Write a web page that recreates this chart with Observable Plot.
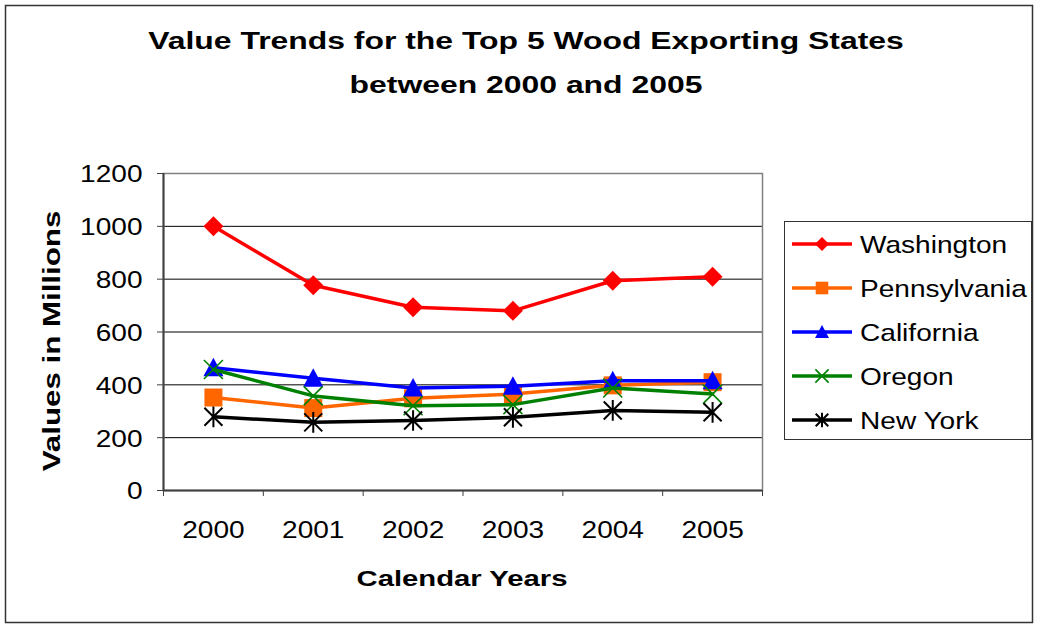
<!DOCTYPE html>
<html>
<head>
<meta charset="utf-8">
<script src="https://cdn.jsdelivr.net/npm/d3@7"></script>
<script src="https://cdn.jsdelivr.net/npm/@observablehq/plot@0.6"></script>
<style>
  html, body { margin: 0; padding: 0; background: #fff; }
  #chart { width: 1039px; height: 625px; }
</style>
</head>
<body>
<div id="chart"></div>
<script>
// ---- data ----
const years = [2000, 2001, 2002, 2003, 2004, 2005];
const states = ["Washington", "Pennsylvania", "California", "Oregon", "New York"];
const washington   = [1000, 777, 694, 680, 794, 809];
const pennsylvania = [352, 312, 349, 365, 398, 410];
const california   = [465, 425, 388, 395, 415, 415];
const oregon       = [458, 358, 321, 325, 388, 365];
const newYork      = [279, 258, 265, 277, 303, 296];
const yTicks = [0, 200, 400, 600, 800, 1000, 1200];
const titleLines = ["Value Trends for the Top 5 Wood Exporting States", "between 2000 and 2005"];
const xTitle = "Calendar Years";
const yTitle = "Values in Millions";

// ---- styles ----
const seriesValues = [washington, pennsylvania, california, oregon, newYork];
const colors = ["#FF0000", "#FF6600", "#0000FF", "#008000", "#000000"];
const FONT = "'Liberation Sans', Arial, sans-serif";

const symbols = {
  diamond: {draw(c, s) { const r = Math.sqrt(s / Math.PI); c.moveTo(0, -r); c.lineTo(r, 0); c.lineTo(0, r); c.lineTo(-r, 0); c.closePath(); }},
  square:  {draw(c, s) { const r = Math.sqrt(s / Math.PI) * 0.9; c.rect(-r, -r, 2 * r, 2 * r); }},
  triangle:{draw(c, s) { const r = Math.sqrt(s / Math.PI); c.moveTo(0, -r); c.lineTo(r, r * 0.85); c.lineTo(-r, r * 0.85); c.closePath(); }},
  times:   {draw(c, s) { const r = Math.sqrt(s / Math.PI) * 0.95; c.moveTo(-r, -r); c.lineTo(r, r); c.moveTo(r, -r); c.lineTo(-r, r); }},
  star:    {draw(c, s) { const r = Math.sqrt(s / Math.PI) * 0.9; c.moveTo(-r, -r); c.lineTo(r, r); c.moveTo(r, -r); c.lineTo(-r, r); c.moveTo(0, -r * 1.15); c.lineTo(0, r * 1.15); }}
};
const seriesSymbols = [symbols.diamond, symbols.square, symbols.triangle, symbols.times, symbols.star];
const filled = [true, true, true, false, false];
const strokeW = [0, 0, 0, 1.6, 2];

const boundaries = d3.range(years.length + 1).map(i => years[0] - 0.5 + i);

const seriesMarks = states.flatMap((s, k) => {
  const rows = years.map((yr, i) => ({year: yr, value: seriesValues[k][i], state: s}));
  return [
    Plot.line(rows, {x: "year", y: "value", stroke: colors[k], strokeWidth: 3.5}),
    Plot.dot(rows, {
      x: "year", y: "value", r: 10, symbol: seriesSymbols[k],
      fill: filled[k] ? colors[k] : "none",
      stroke: filled[k] ? "none" : colors[k],
      strokeWidth: strokeW[k]
    })
  ];
});

const chart = Plot.plot({
  width: 1039,
  height: 625,
  marginLeft: 163,
  marginRight: 277,
  marginTop: 173,
  marginBottom: 135,
  style: {fontFamily: FONT, fontSize: "23px", background: "#fff", overflow: "visible"},
  x: {type: "linear", domain: [boundaries[0], boundaries[boundaries.length - 1]]},
  y: {domain: [0, 1200]},
  marks: [
    Plot.gridY(yTicks.filter(d => d > 0), {stroke: "#000", strokeOpacity: 1, strokeWidth: 1}),
    Plot.frame({stroke: "#808080", strokeWidth: 1.5}),
    Plot.ruleX([boundaries[0]], {stroke: "#404040", strokeWidth: 2}),
    Plot.ruleY([0], {stroke: "#404040", strokeWidth: 2}),
    Plot.axisY({ticks: yTicks, tickSize: 6, tickPadding: 15, stroke: "#404040", label: null, fontSize: 23, tickFormat: d => String(d)}),
    Plot.axisX({ticks: boundaries, tickSize: 6, stroke: "#404040", tickFormat: () => "", label: null}),
    Plot.axisX({ticks: years, tickSize: 0, tickPadding: 31, tickFormat: d => String(d), label: null, fontSize: 23}),
    ...seriesMarks
  ]
});

document.getElementById("chart").appendChild(chart);

// stretch tick labels horizontally (the reference text is wide)
function stretchText(sel, s, dy) {
  d3.select(chart).selectAll(sel).each(function() {
    const t = d3.select(this);
    const xa = t.attr("x");
    const x = xa != null && !isNaN(+xa) ? +xa : 0;
    if (xa != null && !isNaN(+xa)) t.attr("x", null);
    const tr = t.attr("transform") || "";
    t.attr("transform", `${tr} translate(${x},${dy}) scale(${s},1)`);
  });
}
stretchText('g[aria-label="y-axis tick label"] text', 1.22, 1.5);
stretchText('g[aria-label="x-axis tick label"] text', 1.22, 0);

const svg = d3.select(chart);

// outer border
svg.append("rect").attr("x", 5.5).attr("y", 5.5).attr("width", 1027).attr("height", 617)
  .attr("fill", "none").attr("stroke", "#333").attr("stroke-width", 1.5);

// title
titleLines.forEach((line, i) => {
  svg.append("text").attr("transform", `translate(526,${49 + i * 44}) scale(1.33,1)`)
    .attr("text-anchor", "middle").attr("font-family", FONT).attr("font-weight", "bold")
    .attr("font-size", 24).attr("fill", "#000").text(line);
});

// axis titles
svg.append("text").attr("transform", `translate(462,586) scale(1.33,1)`)
  .attr("text-anchor", "middle").attr("font-family", FONT).attr("font-weight", "bold")
  .attr("font-size", 22).attr("fill", "#000").text(xTitle);
svg.append("text").attr("transform", `translate(60,341) rotate(-90) scale(1.36,1)`)
  .attr("text-anchor", "middle").attr("font-family", FONT).attr("font-weight", "bold")
  .attr("font-size", 23).attr("fill", "#000").text(yTitle);

// legend
const lg = svg.append("g");
lg.append("rect").attr("x", 784.5).attr("y", 221.5).attr("width", 247).attr("height", 218)
  .attr("fill", "#fff").attr("stroke", "#333").attr("stroke-width", 1);
const rowY = [244, 288, 332, 376, 420];
states.forEach((s, k) => {
  const y = rowY[k];
  lg.append("line").attr("x1", 792).attr("x2", 852).attr("y1", y).attr("y2", y)
    .attr("stroke", colors[k]).attr("stroke-width", 3.5);
  lg.append("path").attr("transform", `translate(822,${y})`)
    .attr("d", d3.symbol(seriesSymbols[k], 7 * 7 * Math.PI)())
    .attr("fill", filled[k] ? colors[k] : "none")
    .attr("stroke", filled[k] ? "none" : colors[k])
    .attr("stroke-width", strokeW[k]);
  lg.append("text").attr("transform", `translate(860,${y}) scale(1.17,1)`)
    .attr("text-anchor", "start")
    .attr("dy", "0.36em").attr("font-family", FONT).attr("font-size", 24)
    .attr("fill", "#000").text(s);
});
</script>
</body>
</html>
